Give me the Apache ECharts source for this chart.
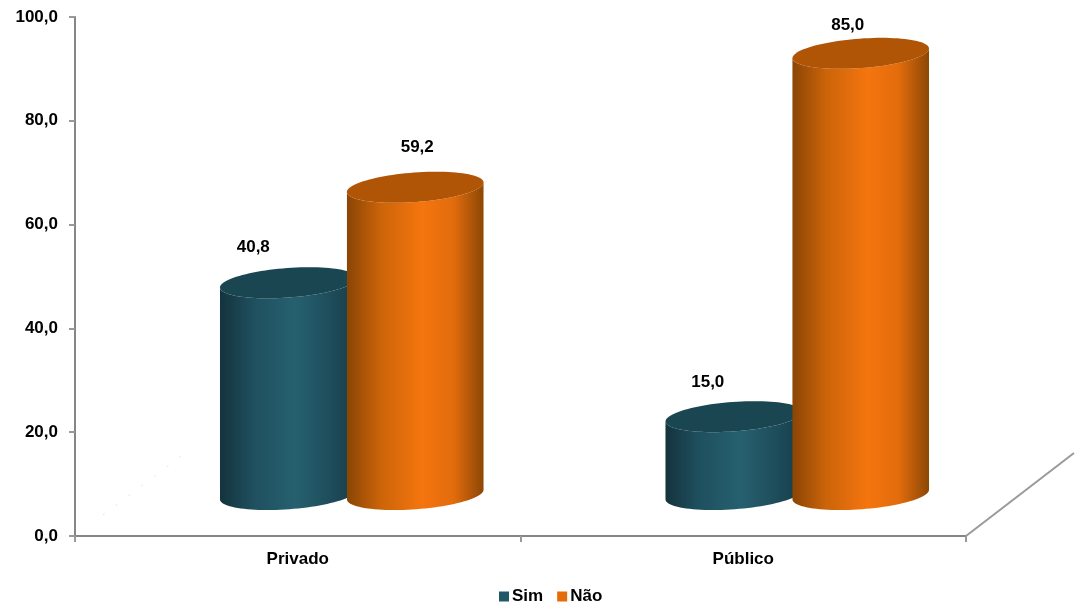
<!DOCTYPE html>
<html><head><meta charset="utf-8">
<style>html,body{margin:0;padding:0;background:#fff}#c{width:1075px;height:604px}</style>
<script src="https://cdn.jsdelivr.net/npm/echarts@6/dist/echarts.min.js"></script>
</head><body><div id="c"></div>
<script>
const categories = ['Privado', 'Público'];
const simValues = [40.8, 15.0];
const naoValues = [59.2, 85.0];
const yTicks = { min: 0, max: 100, interval: 20 };

// Look of the pseudo-3D cylinders (no data in here)
const DEPTH = { x: 54, y: -41.5 };
const FONT = '"Liberation Sans", Arial, sans-serif';
const TILT = 4.2 * Math.PI / 180;
const LOOK = {
  Sim: { slot: -0.1425, top: '#1a4652', side: ['#14333d', '#1f505f', '#26606f', '#1f4f5d', '#173c48'],
         nudge: [[-35, -35], [-26, -34]] },
  'Não': { slot: 0.1425, top: '#b05506', side: ['#8a4505', '#cc6409', '#f5750f', '#e26c0c', '#8c4705'],
         nudge: [[2, -40], [-13, -28]] }
};

function arc(cx, cy, a, b, from, to, n) {
  const pts = [];
  for (let i = 0; i <= n; i++) {
    const t = from + (to - from) * i / n;
    const u = a * Math.cos(t), v = b * Math.sin(t);
    pts.push([cx + u * Math.cos(TILT) + v * Math.sin(TILT), cy - u * Math.sin(TILT) + v * Math.cos(TILT)]);
  }
  return pts;
}

function cylinder(look) {
  return function (params, api) {
    const cat = api.value(0), val = api.value(1);
    const band = api.size([1, 0])[0];
    const top = api.coord([cat, val]);
    const base = api.coord([cat, 0]);
    const cx = top[0] + DEPTH.x + look.slot * band;
    const a = band * 0.1537, b = a * 0.215;
    const ty = top[1] + DEPTH.y, by = base[1] + DEPTH.y;
    const body = arc(cx, by, a, b, 0, Math.PI, 48).concat(arc(cx, ty, a, b, Math.PI, 0, 48));
    const stops = look.side.map((c, i) => ({ offset: [0, 0.25, 0.55, 0.78, 1][i], color: c }));
    const n = look.nudge[cat];
    return {
      type: 'group',
      children: [
        { type: 'polygon', shape: { points: body },
          style: { fill: { type: 'linear', x: 0, y: 0, x2: 1, y2: 0, colorStops: stops } } },
        { type: 'polygon', shape: { points: arc(cx, ty, a, b, 0, Math.PI * 2, 96) }, style: { fill: look.top } },
        { type: 'text', x: cx + n[0], y: ty + n[1],
          style: { text: val.toFixed(1).replace('.', ','), fill: '#000', font: 'bold 17px ' + FONT, align: 'center', verticalAlign: 'middle' } }
      ]
    };
  };
}

function floorLines(params, api) {
  const g = params.coordSys;
  const bottom = g.y + g.height, right = g.x + g.width;
  return {
    type: 'group', silent: true,
    children: [
      { type: 'line', shape: { x1: right, y1: bottom, x2: right + 2 * DEPTH.x, y2: bottom + 2 * DEPTH.y },
        style: { stroke: '#9a9a9a', lineWidth: 2 } },
      { type: 'line', shape: { x1: g.x + 28, y1: bottom - 21, x2: g.x + 106, y2: bottom - 80 },
        style: { stroke: '#e4e4e4', lineWidth: 1, lineDash: [2, 14] } }
    ]
  };
}

function seriesOf(name, values) {
  return {
    name, type: 'custom', clip: false, coordinateSystem: 'cartesian2d',
    renderItem: cylinder(LOOK[name]),
    itemStyle: { color: name === 'Sim' ? '#215968' : '#e46c0a' },
    encode: { x: 0, y: 1 },
    data: values.map((v, i) => [i, v])
  };
}

const chart = echarts.init(document.getElementById('c'), null, { renderer: 'canvas' });
chart.setOption({
  animation: false,
  backgroundColor: '#fff',
  textStyle: { fontFamily: FONT },
  grid: { left: 75, right: 109, top: 17, bottom: 68, containLabel: false },
  legend: {
    data: ['Sim', 'Não'], left: 494, top: 583, icon: 'rect', itemWidth: 10, itemHeight: 10, itemGap: 14,
    textStyle: { fontFamily: FONT, fontSize: 17, fontWeight: 'bold', color: '#000', padding: [0, 0, 0, -2] }
  },
  xAxis: {
    type: 'category', data: categories,
    axisLine: { lineStyle: { color: '#868686', width: 2 } },
    axisTick: { show: true, length: 6, alignWithLabel: false, lineStyle: { color: '#999999', width: 2 } },
    axisLabel: { margin: 15, color: '#000', fontFamily: FONT, fontSize: 17, fontWeight: 'bold' },
    splitLine: { show: false }
  },
  yAxis: {
    type: 'value', min: yTicks.min, max: yTicks.max, interval: yTicks.interval,
    axisLine: { show: true, lineStyle: { color: '#868686', width: 2 } },
    axisTick: { show: true, length: 6, lineStyle: { color: '#999999', width: 2 } },
    axisLabel: { margin: 17, padding: [2, 0, 0, 0], color: '#000', fontFamily: FONT, fontSize: 17, fontWeight: 'bold',
      formatter: v => v.toFixed(1).replace('.', ',') },
    splitLine: { show: false }
  },
  series: [
    { type: 'custom', name: 'piso', clip: false, renderItem: floorLines, data: [[0, 0]], encode: { x: 0, y: 1 }, silent: true },
    seriesOf('Sim', simValues),
    seriesOf('Não', naoValues)
  ]
});
</script></body></html>
